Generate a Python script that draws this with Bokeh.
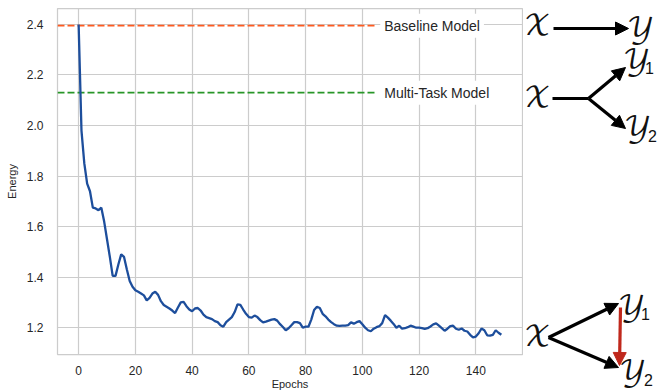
from bokeh.plotting import figure
from bokeh.models import Range1d, FixedTicker, Label, Arrow, NormalHead
from bokeh.layouts import row, column
from bokeh.core.properties import value
from bokeh.embed import file_html
from bokeh.resources import INLINE

# ---------------- data ----------------
epochs = list(range(150))
energy = [
    2.40, 1.98, 1.85, 1.77, 1.74, 1.675, 1.672, 1.665, 1.675, 1.62,
    1.55, 1.48, 1.405, 1.405, 1.45, 1.49, 1.48, 1.43, 1.385, 1.362,
    1.348, 1.342, 1.335, 1.328, 1.308, 1.318, 1.335, 1.342, 1.330, 1.305,
    1.29, 1.283, 1.276, 1.268, 1.258, 1.28, 1.30, 1.302, 1.285, 1.272,
    1.265, 1.276, 1.278, 1.268, 1.252, 1.242, 1.238, 1.234, 1.226, 1.222,
    1.21, 1.204, 1.222, 1.232, 1.242, 1.262, 1.292, 1.29, 1.272, 1.255,
    1.242, 1.24, 1.248, 1.242, 1.23, 1.221, 1.224, 1.228, 1.232, 1.234,
    1.228, 1.214, 1.203, 1.19, 1.198, 1.21, 1.222, 1.222, 1.218, 1.20,
    1.204, 1.204, 1.232, 1.27, 1.283, 1.278, 1.255, 1.245, 1.232, 1.222,
    1.214, 1.208, 1.207, 1.208, 1.208, 1.21, 1.221, 1.216, 1.222, 1.226,
    1.214, 1.20, 1.19, 1.186, 1.196, 1.202, 1.206, 1.218, 1.25, 1.24,
    1.228, 1.215, 1.20, 1.208, 1.196, 1.198, 1.202, 1.208, 1.204, 1.20,
    1.20, 1.198, 1.195, 1.198, 1.205, 1.213, 1.217, 1.208, 1.198, 1.188,
    1.196, 1.206, 1.208, 1.196, 1.192, 1.197, 1.188, 1.185, 1.172, 1.162,
    1.165, 1.178, 1.197, 1.19, 1.17, 1.169, 1.172, 1.19, 1.18, 1.172,
]
baseline_energy = 2.395
multitask_energy = 2.13
reference_names = ["Baseline Model", "Multi-Task Model"]

x_ticks = [0, 20, 40, 60, 80, 100, 120, 140]
x_tick_labels = ["0", "20", "40", "60", "80", "100", "120", "140"]
y_ticks = [1.2, 1.4, 1.6, 1.8, 2.0, 2.2, 2.4]
y_tick_labels = ["1.2", "1.4", "1.6", "1.8", "2.0", "2.2", "2.4"]

# ---------------- styling ----------------
FONT = "Liberation Sans"
TXT = "#262626"
GRID = "#cccccc"
BLUE = "#1d4e9c"
ORANGE = "#ff5a1f"
GREEN = "#289628"
MATH_FONT = "DejaVu Math TeX Gyre, DejaVu Serif, serif"

x_lo, x_hi = -7.45, 156.45
dash_end = 104.8
label_x = 106.3

p = figure(width=523, height=392,
           x_range=Range1d(x_lo, x_hi), y_range=Range1d(1.094, 2.463),
           toolbar_location=None, output_backend="svg",
           min_border_left=57, min_border_right=1, min_border_top=8,
           min_border_bottom=36)
p.background_fill_color = "white"
p.border_fill_color = "white"
p.outline_line_color = GRID
p.outline_line_width = 1.25

p.xaxis.ticker = FixedTicker(ticks=x_ticks)
p.yaxis.ticker = FixedTicker(ticks=y_ticks)
p.xaxis.major_label_overrides = {t: l for t, l in zip(x_ticks, x_tick_labels)}
p.yaxis.major_label_overrides = {t: l for t, l in zip(y_ticks, y_tick_labels)}
p.axis.axis_line_color = None
p.axis.major_tick_line_color = None
p.axis.minor_tick_line_color = None
p.axis.major_label_text_font = FONT
p.axis.major_label_text_font_size = "12px"
p.axis.major_label_text_color = TXT
p.xaxis.major_label_standoff = 5
p.yaxis.major_label_standoff = 8
p.xaxis.axis_label = "Epochs"
p.yaxis.axis_label = "Energy"
p.axis.axis_label_text_font = FONT
p.axis.axis_label_text_font_size = "11px"
p.axis.axis_label_text_font_style = "normal"
p.axis.axis_label_text_color = TXT
p.xaxis.axis_label_standoff = 0
p.yaxis.axis_label_standoff = 6

p.grid.grid_line_color = GRID
p.grid.grid_line_width = 1.2

p.line([x_lo, dash_end], [baseline_energy, baseline_energy],
       line_color=ORANGE, line_width=1.8, line_dash="7 3")
p.line([x_lo, dash_end], [multitask_energy, multitask_energy],
       line_color=GREEN, line_width=1.8, line_dash="7 3")
p.line(epochs, energy, line_color=BLUE, line_width=2.3)

for name, yv in zip(reference_names, [baseline_energy, multitask_energy]):
    p.add_layout(Label(x=label_x, y=yv, text=name, text_baseline="middle",
                       text_font=FONT, text_font_size="14px", text_color=TXT,
                       background_fill_color="white", padding=4))

# ---------------- schematic panel ----------------
q = figure(width=137, height=392, x_range=Range1d(0, 137), y_range=Range1d(392, 0),
           toolbar_location=None, output_backend="svg",
           x_axis_type=None, y_axis_type=None, min_border=0)
q.outline_line_color = None
q.grid.visible = False
q.background_fill_color = "white"
q.border_fill_color = "white"

sym_x = [14, 117, 14, 113, 114, 14, 108, 109]
sym_y = [26, 29, 98, 61, 128, 337, 307, 372]
sym_t = ["𝒳", "𝒴", "𝒳", "𝒴", "𝒴", "𝒳", "𝒴", "𝒴"]
q.text(x=sym_x, y=sym_y, text=sym_t, text_font=value(MATH_FONT),
       text_font_size="28px", text_align="center", text_baseline="middle",
       text_color="#111111")
sub_x = [126, 129, 122, 125]
sub_y = [67, 135, 313, 379]
sub_t = ["1", "2", "1", "2"]
q.text(x=sub_x, y=sub_y, text=sub_t, text_font=value(FONT),
       text_font_size="16px", text_align="center", text_baseline="middle",
       text_color="#111111")

q.segment(x0=[29], y0=[98], x1=[65], y1=[98], line_color="black", line_width=3.2)

arrows = [
    (30, 28, 105, 28, "black"),
    (65, 98, 102, 67, "black"),
    (65, 98, 102, 128, "black"),
    (25, 337, 95, 303, "black"),
    (25, 337, 95, 367, "black"),
    (97, 307, 96, 365, "#c0281c"),
]
for x0, y0, x1, y1, c in arrows:
    q.add_layout(Arrow(x_start=x0, y_start=y0, x_end=x1, y_end=y1,
                       line_color=c, line_width=3.2,
                       end=NormalHead(size=13, fill_color=c, line_color=c)))

layout = row(p, column(q))
open("out.html", "w").write(file_html(layout, INLINE))
